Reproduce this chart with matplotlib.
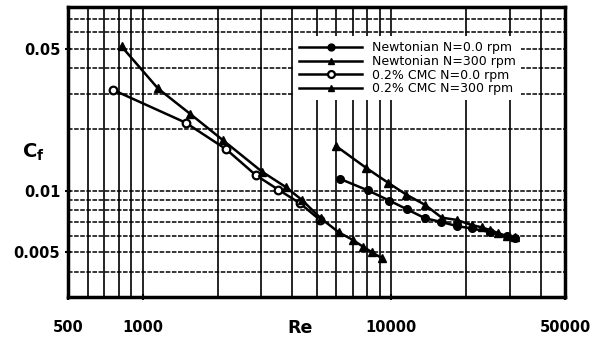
"""Skin friction coefficient vs Reynolds number, Newtonian and 0.2% CMC."""
import matplotlib
matplotlib.use("Agg")
import matplotlib.pyplot as plt
from matplotlib.ticker import FixedLocator, LogLocator, NullFormatter

# Newtonian N=0.0 rpm (filled circles)
re_newt_0 = [6216, 8061, 9817, 11535, 13665, 15850, 18335, 21060, 24955, 29134, 31461]
cf_newt_0 = [0.01143, 0.01002, 0.00894, 0.00811, 0.00732, 0.00702, 0.0067, 0.00652,
             0.00626, 0.00596, 0.00585]

# Newtonian N=300 rpm (filled triangles)
re_newt_300 = [5989, 7909, 9727, 11510, 13665, 15950, 18335, 21060, 23117, 24955,
               26876, 29134, 31461]
cf_newt_300 = [0.01658, 0.01296, 0.01092, 0.00955, 0.00852, 0.00737, 0.00718, 0.00678,
               0.0066, 0.0064, 0.00619, 0.00598, 0.0059]

# 0.2% CMC N=0.0 rpm (open circles)
re_cmc_0 = [759, 1486, 2162, 2854, 3516, 4290, 5163]
cf_cmc_0 = [0.0313, 0.0216, 0.0160, 0.0119, 0.0101, 0.00867, 0.00718]

# 0.2% CMC N=300 rpm (filled triangles)
re_cmc_300 = [821, 1151, 1548, 2102, 3017, 3770, 4370, 5211, 6156, 7013, 7695, 8362, 9172]
cf_cmc_300 = [0.0512, 0.0318, 0.0239, 0.0177, 0.0124, 0.0104, 0.0090, 0.0073, 0.00623,
              0.00572, 0.0053, 0.00498, 0.00465]

x_ticks = [500, 1000, 10000, 50000]
y_ticks = [0.005, 0.01, 0.05]

fig = plt.figure(figsize=(5.97, 3.46), dpi=100)
ax = fig.add_axes([68 / 597, 1 - 297 / 346, 497 / 597, 290 / 346])

ax.set_xscale("log")
ax.set_yscale("log")
ax.set_xlim(500, 50000)
ax.set_ylim(0.003, 0.08)

# graph-paper grid: solid verticals, dashed horizontals
ax.xaxis.set_minor_locator(LogLocator(base=10, subs=range(2, 10)))
ax.yaxis.set_minor_locator(LogLocator(base=10, subs=range(2, 10)))
ax.xaxis.grid(True, which="both", color="black", linestyle="-", linewidth=1.2)
ax.yaxis.grid(True, which="both", color="black", linestyle=(0, (3, 1)), linewidth=1.1)
ax.set_axisbelow(True)

kw = dict(color="black", linewidth=1.8)
ax.plot(re_newt_0, cf_newt_0, marker="o", markersize=5.5, label="Newtonian N=0.0 rpm", **kw)
ax.plot(re_newt_300, cf_newt_300, marker="^", markersize=5.5, label="Newtonian N=300 rpm", **kw)
ax.plot(re_cmc_0, cf_cmc_0, marker="o", markersize=5.5, markerfacecolor="white",
        markeredgewidth=1.6, label="0.2% CMC N=0.0 rpm", **kw)
ax.plot(re_cmc_300, cf_cmc_300, marker="^", markersize=5.5, label="0.2% CMC N=300 rpm", **kw)

ax.xaxis.set_major_locator(FixedLocator(x_ticks))
ax.yaxis.set_major_locator(FixedLocator(y_ticks))
ax.xaxis.set_minor_formatter(NullFormatter())
ax.yaxis.set_minor_formatter(NullFormatter())
ax.set_xticklabels([str(v) for v in x_ticks], fontweight="bold", fontsize=10.5)
ax.set_yticklabels([str(v) for v in y_ticks], fontweight="bold", fontsize=10.5)
ax.tick_params(which="major", direction="inout", length=5, width=1.5, color="black", pad=14)
ax.tick_params(axis="y", pad=3)
ax.tick_params(which="minor", length=0)

for s in ax.spines.values():
    s.set_linewidth(2.5)

leg = fig.legend(loc="upper left", bbox_to_anchor=(288 / 597, 1 - 30 / 346),
                 fontsize=9, handlelength=5, handletextpad=0.8, labelspacing=0.05,
                 borderpad=0.4, markerscale=0.9, frameon=True, fancybox=False)
leg.get_frame().set_facecolor("white")
leg.get_frame().set_edgecolor("none")
leg.get_frame().set_alpha(1.0)

fig.text(300 / 597, 1 - 328 / 346, "Re", fontsize=12.5, fontweight="bold",
         ha="center", va="center")
fig.text(33 / 597, 1 - 152 / 346, r"$\mathbf{C}_\mathbf{f}$", fontsize=14,
         ha="center", va="center")

fig.savefig("out.png", dpi=100)
